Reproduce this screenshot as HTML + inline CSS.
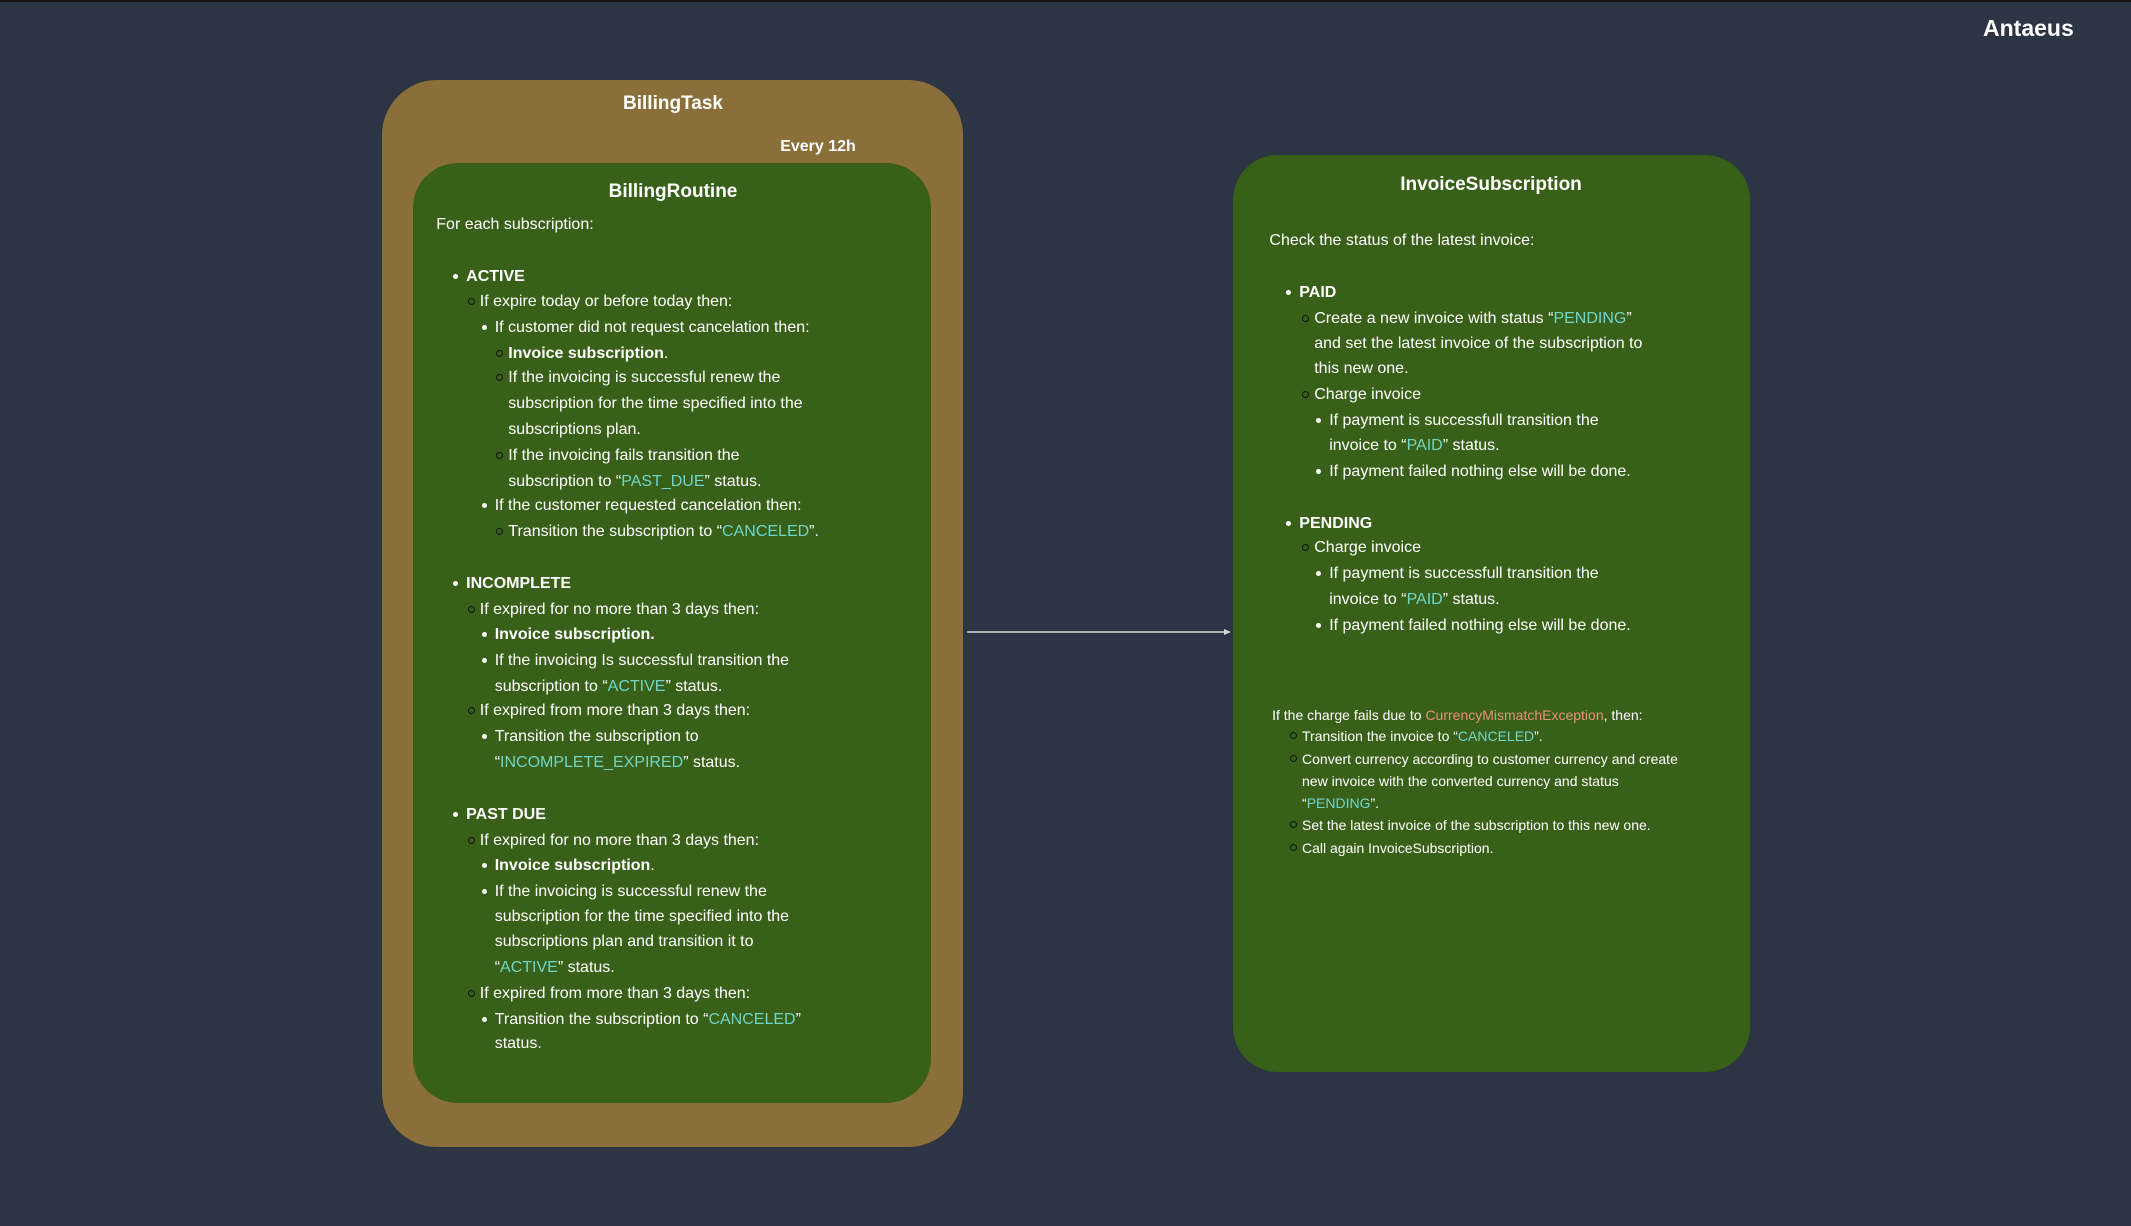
<!DOCTYPE html>
<html><head><meta charset="utf-8"><style>
html,body{margin:0;padding:0}
body{width:2131px;height:1226px;background:#2d3443;position:relative;overflow:hidden;font-family:"Liberation Sans","DejaVu Sans",sans-serif;color:#fff}
.box{position:absolute}
.t{position:absolute;left:calc(var(--x)*1.3591px);top:calc(var(--y)*1.3591px - 11px);font-size:16px;line-height:26px;white-space:nowrap}
.s{font-size:14px;top:calc(var(--y)*1.3591px - 10px);line-height:22px}
.b::before{content:"";position:absolute;left:-13px;top:10px;width:5px;height:5px;border-radius:50%;background:#fff}
.c::before{content:"";position:absolute;left:-12px;top:9px;width:5px;height:5px;border-radius:50%;border:1.3px solid #111}
.s.c::before{top:7px}
.cy{color:#6fd6c8}
.sa{color:#e8917c}
.h{position:absolute;font-weight:bold;font-size:19px;transform:translateX(-50%);white-space:nowrap}
</style></head><body>
<div style="position:absolute;left:0;top:0;width:2131px;height:2px;background:#111"></div>
<div style="position:absolute;left:1983px;top:15px;font-weight:bold;font-size:23px">Antaeus</div>

<div class="box" style="left:382px;top:80px;width:581px;height:1067px;background:#8b6f3a;border-radius:55px"></div>
<div class="box" style="left:413px;top:163px;width:518px;height:940px;background:#386018;border-radius:45px"></div>
<div class="box" style="left:1233px;top:155px;width:517px;height:917px;background:#386018;border-radius:45px"></div>

<div class="h" style="left:673px;top:93px">BillingTask</div>
<div class="h" style="left:818px;top:138px;font-size:16px;transform:translateX(-50%)">Every 12h</div>
<div class="h" style="left:673px;top:181px">BillingRoutine</div>
<div class="h" style="left:1491px;top:174px">InvoiceSubscription</div>

<svg style="position:absolute;left:0;top:0" width="2131" height="1226">
<line x1="967" y1="632" x2="1226" y2="632" stroke="#d8d8d8" stroke-width="1.5"/>
<polygon points="1231,632 1224,629 1224,635" fill="#d8d8d8"/>
</svg>

<div class="t" style="--x:321;--y:164">For each subscription:</div>
<div class="t b" style="--x:343;--y:202"><b>ACTIVE</b></div>
<div class="t c" style="--x:353;--y:221">If expire today or before today then:</div>
<div class="t b" style="--x:364;--y:240">If customer did not request cancelation then:</div>
<div class="t c" style="--x:374;--y:259"><b>Invoice subscription</b>.</div>
<div class="t c" style="--x:374;--y:277">If the invoicing is successful renew the</div>
<div class="t" style="--x:374;--y:296">subscription for the time specified into the</div>
<div class="t" style="--x:374;--y:315">subscriptions plan.</div>
<div class="t c" style="--x:374;--y:334">If the invoicing fails transition the</div>
<div class="t" style="--x:374;--y:353">subscription to “<span class="cy">PAST_DUE</span>” status.</div>
<div class="t b" style="--x:364;--y:371">If the customer requested cancelation then:</div>
<div class="t c" style="--x:374;--y:390">Transition the subscription to “<span class="cy">CANCELED</span>”.</div>
<div class="t b" style="--x:343;--y:428"><b>INCOMPLETE</b></div>
<div class="t c" style="--x:353;--y:447">If expired for no more than 3 days then:</div>
<div class="t b" style="--x:364;--y:466"><b>Invoice subscription.</b></div>
<div class="t b" style="--x:364;--y:485">If the invoicing Is successful transition the</div>
<div class="t" style="--x:364;--y:504">subscription to “<span class="cy">ACTIVE</span>” status.</div>
<div class="t c" style="--x:353;--y:522">If expired from more than 3 days then:</div>
<div class="t b" style="--x:364;--y:541">Transition the subscription to</div>
<div class="t" style="--x:364;--y:560">“<span class="cy">INCOMPLETE_EXPIRED</span>” status.</div>
<div class="t b" style="--x:343;--y:598"><b>PAST DUE</b></div>
<div class="t c" style="--x:353;--y:617">If expired for no more than 3 days then:</div>
<div class="t b" style="--x:364;--y:636"><b>Invoice subscription</b>.</div>
<div class="t b" style="--x:364;--y:655">If the invoicing is successful renew the</div>
<div class="t" style="--x:364;--y:673">subscription for the time specified into the</div>
<div class="t" style="--x:364;--y:692">subscriptions plan and transition it to</div>
<div class="t" style="--x:364;--y:711">“<span class="cy">ACTIVE</span>” status.</div>
<div class="t c" style="--x:353;--y:730">If expired from more than 3 days then:</div>
<div class="t b" style="--x:364;--y:749">Transition the subscription to “<span class="cy">CANCELED</span>”</div>
<div class="t" style="--x:364;--y:767">status.</div>

<div class="t" style="--x:934;--y:176">Check the status of the latest invoice:</div>
<div class="t b" style="--x:956;--y:214"><b>PAID</b></div>
<div class="t c" style="--x:967;--y:233">Create a new invoice with status “<span class="cy">PENDING</span>”</div>
<div class="t" style="--x:967;--y:252">and set the latest invoice of the subscription to</div>
<div class="t" style="--x:967;--y:270">this new one.</div>
<div class="t c" style="--x:967;--y:289">Charge invoice</div>
<div class="t b" style="--x:978;--y:308">If payment is successfull transition the</div>
<div class="t" style="--x:978;--y:327">invoice to “<span class="cy">PAID</span>” status.</div>
<div class="t b" style="--x:978;--y:346">If payment failed nothing else will be done.</div>
<div class="t b" style="--x:956;--y:384"><b>PENDING</b></div>
<div class="t c" style="--x:967;--y:402">Charge invoice</div>
<div class="t b" style="--x:978;--y:421">If payment is successfull transition the</div>
<div class="t" style="--x:978;--y:440">invoice to “<span class="cy">PAID</span>” status.</div>
<div class="t b" style="--x:978;--y:459">If payment failed nothing else will be done.</div>

<div class="t s" style="--x:936;--y:525">If the charge fails due to <span class="sa">CurrencyMismatchException</span>, then:</div>
<div class="t s c" style="--x:958;--y:541">Transition the invoice to “<span class="cy">CANCELED</span>”.</div>
<div class="t s c" style="--x:958;--y:558">Convert currency according to customer currency and create</div>
<div class="t s" style="--x:958;--y:574">new invoice with the converted currency and status</div>
<div class="t s" style="--x:958;--y:590">“<span class="cy">PENDING</span>”.</div>
<div class="t s c" style="--x:958;--y:606">Set the latest invoice of the subscription to this new one.</div>
<div class="t s c" style="--x:958;--y:623">Call again InvoiceSubscription.</div>
</body></html>
